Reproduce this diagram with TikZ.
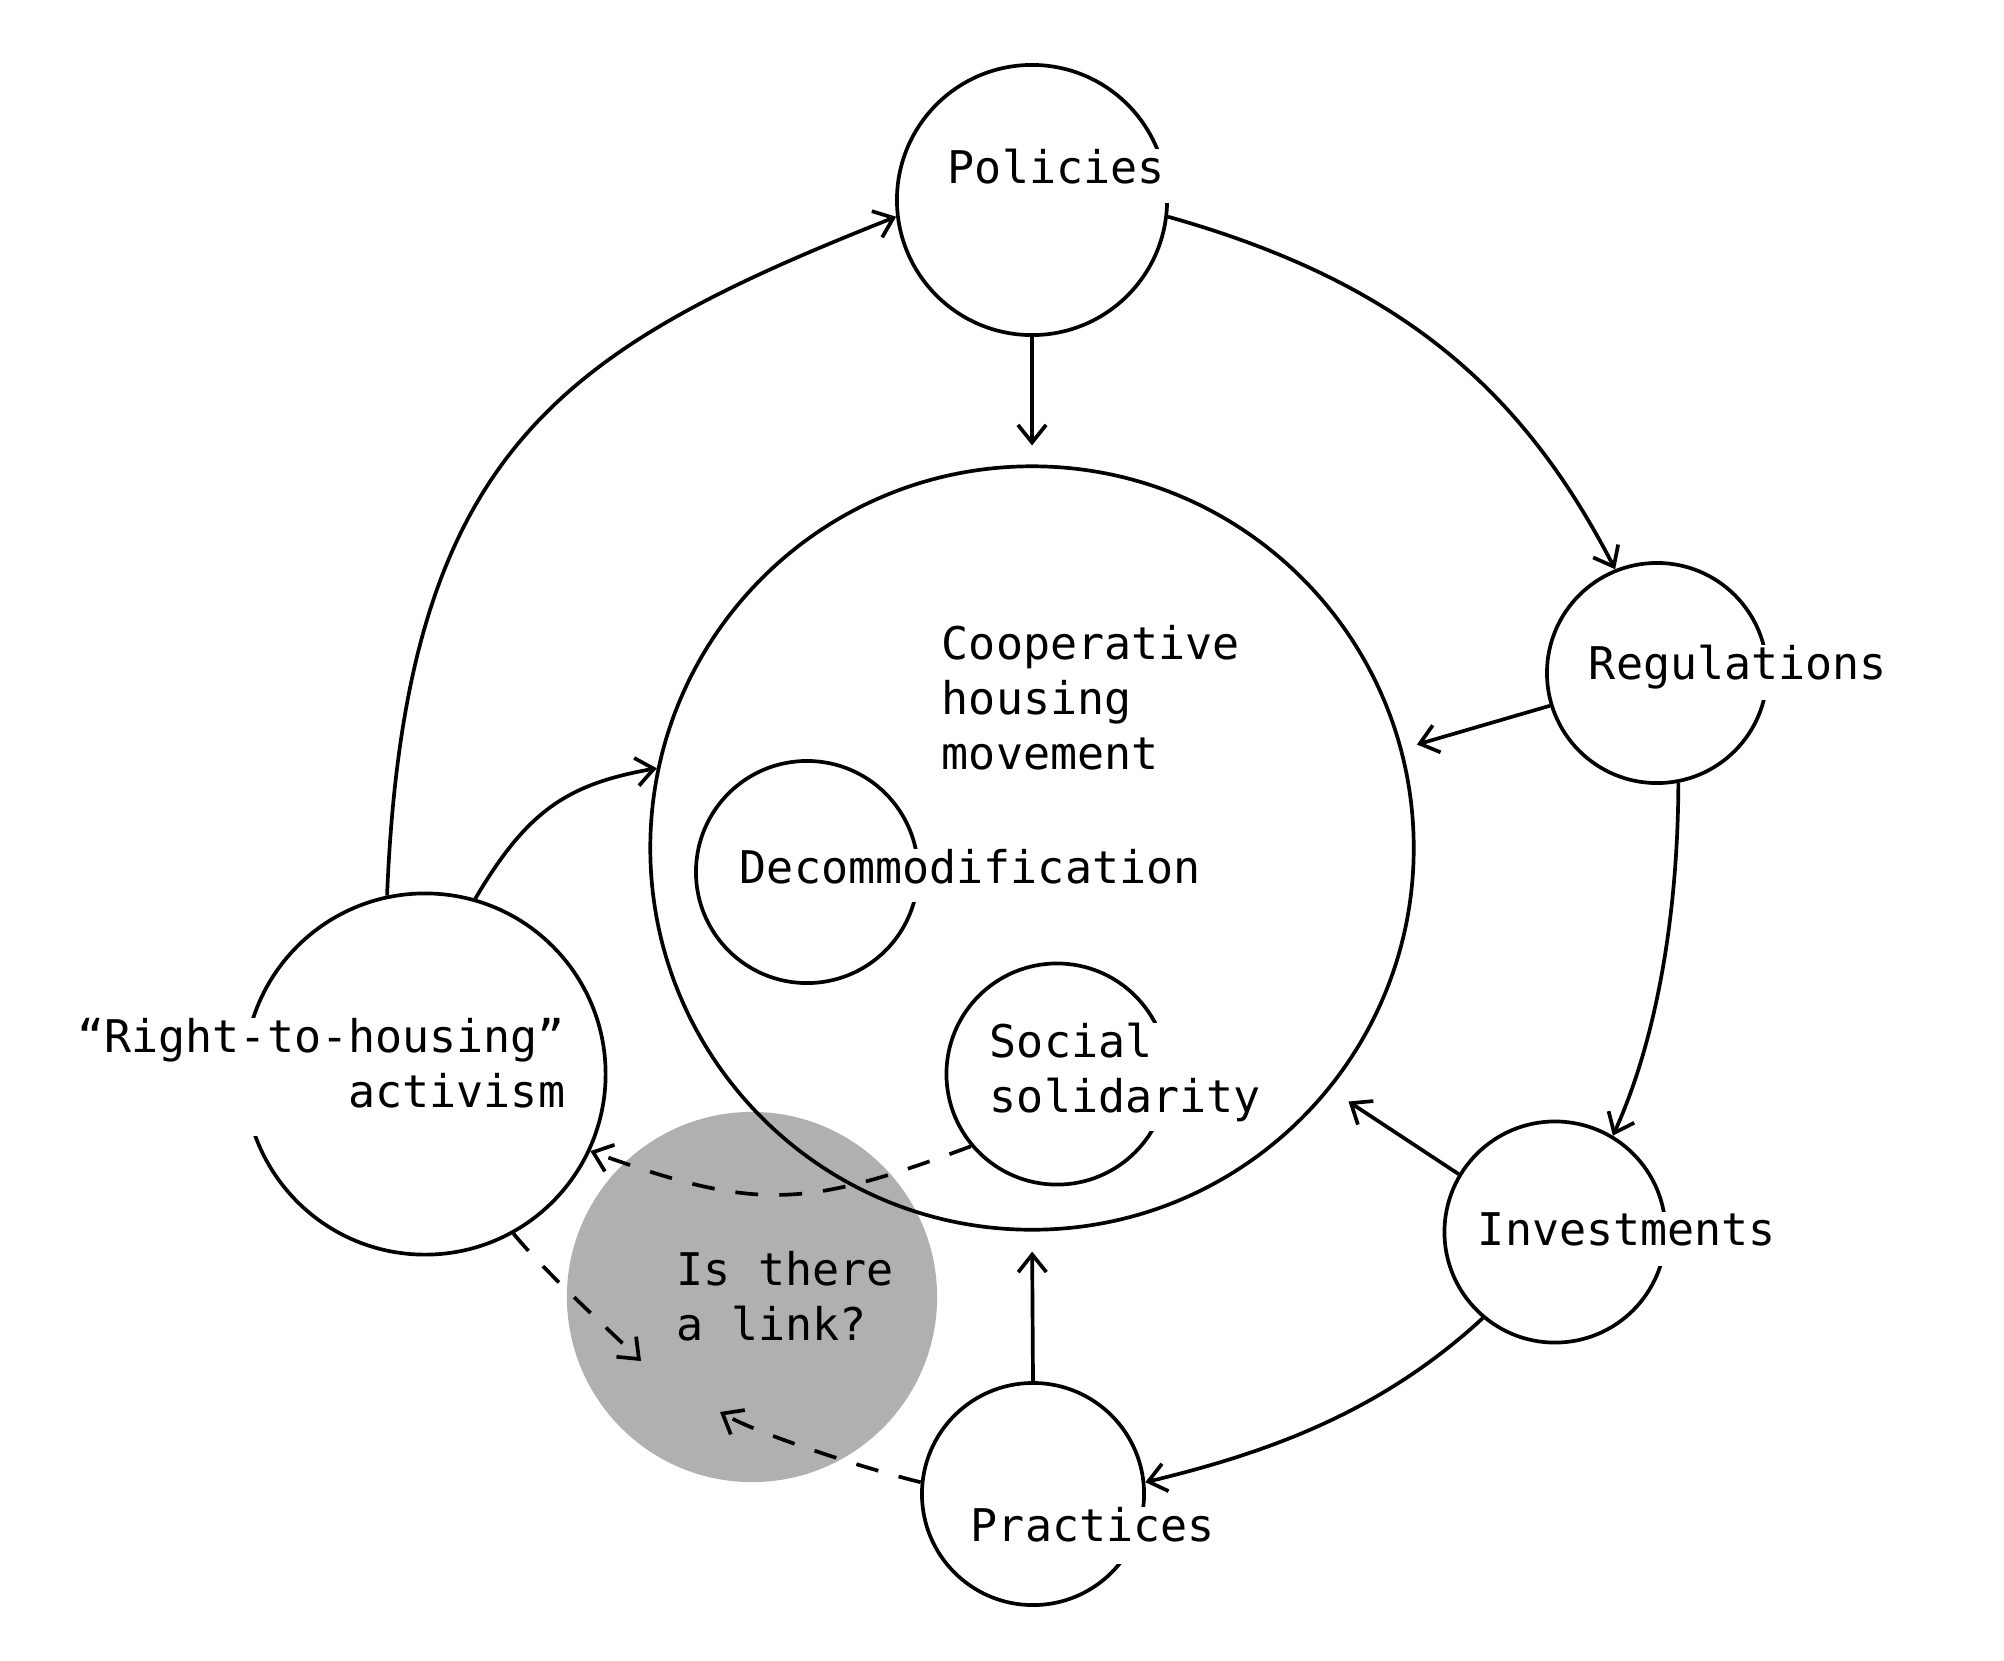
\documentclass[tikz,border=0pt]{standalone}
\usepackage{fontspec}
\newfontfamily\diafont{DejaVu Sans Mono}
\usetikzlibrary{arrows.meta}
\definecolor{linkgray}{gray}{0.69}
\newcommand{\lowgap}[1]{\rule[-#1]{0pt}{0pt}}

\begin{document}
\begin{tikzpicture}[x=0.01cm, y=-0.01cm, line width=1.05pt,
  >={Straight Barb[length=5pt,width=8pt]},
  ring/.style={circle, draw, inner sep=0pt, minimum size=#1},
  txt/.style={font=\diafont\fontsize{12.8pt}{15.6pt}\selectfont, inner sep=0pt},
  cut/.style={txt, fill=white, inner xsep=2pt},
  maybe/.style={dash pattern=on 6.5pt off 6pt}]
\useasboundingbox (0,0) rectangle (2004,1660);

% the open question
\node[circle, fill=linkgray, inner sep=0pt, minimum size=3.7cm] (link) at (752,1297) {};
\coordinate (lk1) at (641,1361);
\coordinate (lk2) at (720,1412);

\node[ring=2.7cm] (pol) at (1032,200) {};
\node[ring=2.2cm] (reg) at (1657,673) {};
\node[ring=2.21cm] (inv) at (1555,1232) {};
\node[ring=2.22cm] (prac) at (1033,1494) {};
\node[ring=3.61cm] (rth) at (425,1074) {};
\node[ring=7.63cm] (coop) at (1032,848) {};
\node[ring=2.22cm] (dec) at (807,872) {};
\node[ring=2.21cm] (soc) at (1057,1074) {};

% outer cycle
\draw[->] (pol.-7) .. controls (1400,282) and (1522,389) .. (reg.112);
\draw[->] (reg.-79) .. controls (1678,906) and (1659,1034) .. (inv.59);
\draw[->] (inv.230) .. controls (1382,1411) and (1271,1452) .. (prac.6);
\draw[->] (rth.102) .. controls (405,450) and (560,350) .. (pol.187);

% into the movement
\draw[->, shorten >=0.19cm] (pol.south) -- (coop.north);
\draw[->, shorten >=0.15cm] (reg.197) -- (coop.15);
\draw[->, shorten >=0.22cm] (inv.149) -- (coop.-39);
\draw[->, shorten >=0.2cm] (prac.north) -- (coop.south);
\draw[->] (rth.74) .. controls (527,811) and (567,784) .. (coop.168);

% dashed links
\draw[->, maybe] (soc.220) .. controls (803,1209) and (756,1211) .. (rth.-25);
\draw[->, maybe] (rth.-61) .. controls (545,1272) and (605,1326) .. (lk1);
\draw[->, maybe] (prac.174) .. controls (870,1470) and (760,1435) .. (lk2);

% labels
\node[cut, anchor=base west, text depth=0.2cm] (polt) at (939,183) {Policies};
\node[cut, anchor=base west, text depth=0.21cm] (regt) at (1580,679) {Regulations};
\node[cut, anchor=base west, text depth=0.21cm] (invt) at (1469,1245) {Investments};
\node[cut, anchor=base west, text depth=0.23cm] (pract) at (962,1541) {Practices};
\node[cut, anchor=base west, text depth=0.19cm] (dect) at (731,883) {Decommodification};
\node[txt, anchor=base west, align=left] (coopt) at (940,769) {Cooperative\\housing\\movement};
\node[cut, anchor=base west, align=left] (soct) at (981,1112) {Social\\solidarity\lowgap{0.19cm}};
\node[cut, anchor=base east, align=right] (rtht) at (574,1107) {“Right-to-housing”\\activism\lowgap{0.29cm}};
\node[txt, anchor=base west, align=left] (linkt) at (675,1340) {Is there\\a link?};
\end{tikzpicture}
\end{document}
